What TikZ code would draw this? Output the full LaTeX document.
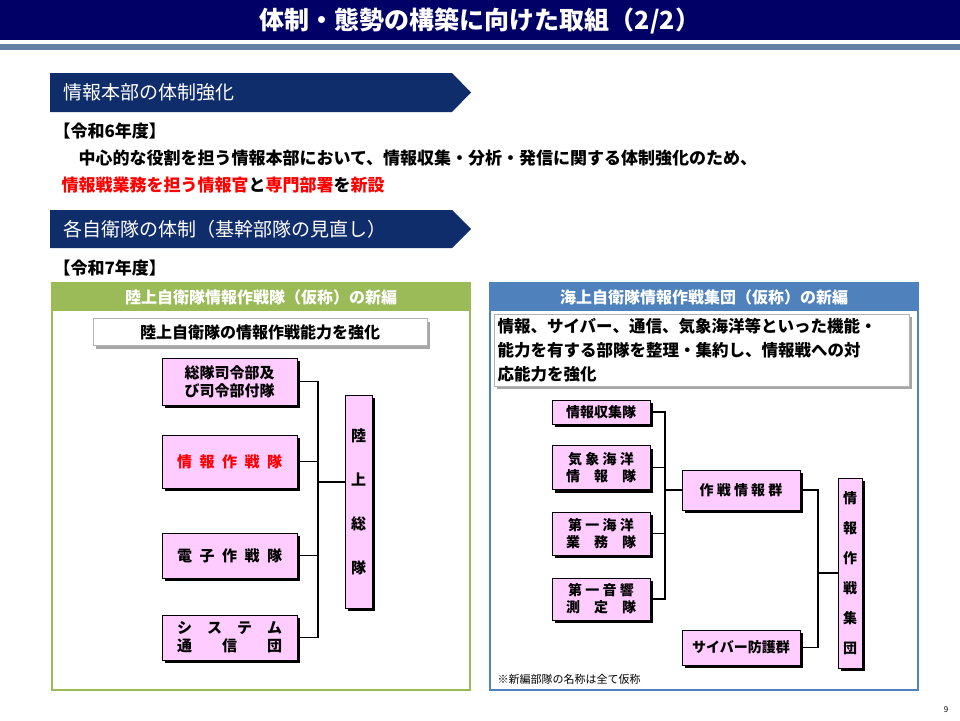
\documentclass[tikz,border=0pt]{standalone}
\usepackage{fontspec}
\setmainfont{Noto Sans CJK JP}
\definecolor{navy}{HTML}{000066}
\definecolor{secblue}{HTML}{0F2C6B}
\definecolor{gbar}{HTML}{9BBB59}
\definecolor{bbar}{HTML}{4F81BD}
\definecolor{unitpink}{HTML}{FFCCFF}
\tikzset{
  unit/.style={draw, thick, fill=unitpink, font=\fontsize{15}{18}\selectfont\bfseries,
    align=center, inner sep=1pt,
    preaction={fill=black, transform canvas={shift={(3pt,-3pt)}}}},
  greyshadow/.style={preaction={fill=gray!70, transform canvas={shift={(3pt,-3pt)}}}},
  link/.style={line width=1.6pt},
  section/.style={fill=secblue},
}
\begin{document}
\begin{tikzpicture}[x=1pt,y=-1pt]
  \useasboundingbox (0,0) rectangle (960,720);
  \fill[white] (0,0) rectangle (960,720);

  % Title bar
  \fill[navy] (0,0) rectangle (960,40);
  \fill[bbar!60!gray] (0,44) rectangle (960,50);
  \node[text=white, font=\fontsize{25}{28}\selectfont\bfseries] (title) at (480,21) {体制・態勢の構築に向けた取組（2/2）};

  % Section 1
  \fill[section] (50,73) -- (452,73) -- (471,92.5) -- (452,112) -- (50,112) -- cycle;
  \node[anchor=west, text=white, font=\fontsize{19}{22}\selectfont] (sec1) at (60,92.5) {情報本部の体制強化};
  \node[anchor=west, font=\fontsize{17}{20}\selectfont\bfseries] (year6) at (50,131) {【令和6年度】};
  \node[anchor=west, font=\fontsize{17}{20}\selectfont\bfseries] (line1) at (58,158) {　中心的な役割を担う情報本部において、情報収集・分析・発信に関する体制強化のため、};
  \node[anchor=west, font=\fontsize{17}{20}\selectfont\bfseries] (line2) at (58,185)
    {\textcolor{red}{情報戦業務を担う情報官}と\textcolor{red}{専門部署}を\textcolor{red}{新設}};

  % Section 2
  \fill[section] (50,210) -- (452,210) -- (471,229) -- (452,248) -- (50,248) -- cycle;
  \node[anchor=west, text=white, font=\fontsize{19}{22}\selectfont] (sec2) at (60,229) {各自衛隊の体制（基幹部隊の見直し）};
  \node[anchor=west, font=\fontsize{17}{20}\selectfont\bfseries] (year7) at (50,268) {【令和7年度】};

  % Left panel
  \fill[gbar] (52,283) rectangle (470,311);
  \draw[gbar, very thick] (52,283) rectangle (470,690);
  \node[text=white, font=\fontsize{16}{19}\selectfont\bfseries] (lhead) at (261,297) {陸上自衛隊情報作戦隊（仮称）の新編};
  \node[draw=gray!60, fill=white, minimum width=334, minimum height=27, font=\fontsize{16}{19}\selectfont\bfseries,
    greyshadow] (lsub) at (260,332) {陸上自衛隊の情報作戦能力を強化};

  \node[unit, minimum width=135, minimum height=47] (hq) at (229.5,381.5) {総隊司令部及\\び司令部付隊};
  \node[unit, minimum width=135, minimum height=53, text=red] (iop) at (229.5,461.5) {情\enspace 報\enspace 作\enspace 戦\enspace 隊};
  \node[unit, minimum width=135, minimum height=45] (ew) at (229.5,555.5) {電\enspace 子\enspace 作\enspace 戦\enspace 隊};
  \node[unit, minimum width=135, minimum height=45] (sig) at (229.5,637.5) {シ　ス　テ　ム\\通　　信　　団};
  \node[unit, minimum width=27, minimum height=213] (gcc) at (358.5,501.5) {陸\\[26pt]上\\[26pt]総\\[26pt]隊};

  \coordinate (lbus) at (318,482);
  \draw[link] (hq.east) -| (lbus);
  \draw[link] (iop.east) -| (lbus);
  \draw[link] (ew.east) -| (lbus);
  \draw[link] (sig.east) -| (lbus);
  \draw[link] (lbus) -- (lbus -| gcc.west);

  % Right panel
  \fill[bbar] (490,283) rectangle (918,311);
  \draw[bbar, very thick] (490,283) rectangle (918,690);
  \node[text=white, font=\fontsize{16}{19}\selectfont\bfseries] (rhead) at (704,297) {海上自衛隊情報作戦集団（仮称）の新編};
  \node[draw=gray!60, fill=white, minimum width=414, minimum height=72, anchor=north west, align=left,
    font=\fontsize{16.5}{24}\selectfont\bfseries, text width=408,
    greyshadow] (rsub) at (494,314)
    {情報、サイバー、通信、気象海洋等といった機能・\\能力を有する部隊を整理・集約し、情報戦への対\\応能力を強化};

  \node[unit, font=\fontsize{14}{17}\selectfont\bfseries, minimum width=98, minimum height=24] (col) at (601,412) {情報収集隊};
  \node[unit, font=\fontsize{14}{17}\selectfont\bfseries, minimum width=98, minimum height=44] (met) at (601,467.5) {気 象 海 洋\\情　報　隊};
  \node[unit, font=\fontsize{14}{17}\selectfont\bfseries, minimum width=98, minimum height=43] (ocn) at (601,533.5) {第 一 海 洋\\業　務　隊};
  \node[unit, font=\fontsize{14}{17}\selectfont\bfseries, minimum width=98, minimum height=42] (aco) at (601,599) {第 一 音 響\\測　定　隊};
  \node[unit, font=\fontsize{14}{17}\selectfont\bfseries, minimum width=118, minimum height=40] (opi) at (741,490) {作 戦 情 報 群};
  \node[unit, font=\fontsize{14}{17}\selectfont\bfseries, minimum width=118, minimum height=35] (cyb) at (741,647.5) {サイバー防護群};
  \node[unit, font=\fontsize{14}{17}\selectfont\bfseries, minimum width=24, minimum height=190] (iog) at (850,573) {情\\[13pt]報\\[13pt]作\\[13pt]戦\\[13pt]集\\[13pt]団};

  \coordinate (rbus1) at (665,490);
  \draw[link] (col.east) -| (rbus1);
  \draw[link] (met.east) -| (rbus1);
  \draw[link] (ocn.east) -| (rbus1);
  \draw[link] (aco.east) -| (rbus1);
  \draw[link] (rbus1) -- (opi.west);
  \coordinate (rbus2) at (818,573);
  \draw[link] (opi.east) -| (rbus2);
  \draw[link] (cyb.east) -| (rbus2);
  \draw[link] (rbus2) -- (iog.west);

  \node[anchor=west, font=\fontsize{11}{13}\selectfont] (note) at (494,679) {※新編部隊の名称は全て仮称};
  \node[font=\fontsize{8}{10}\selectfont] (page) at (946,710) {9};
\end{tikzpicture}
\end{document}
